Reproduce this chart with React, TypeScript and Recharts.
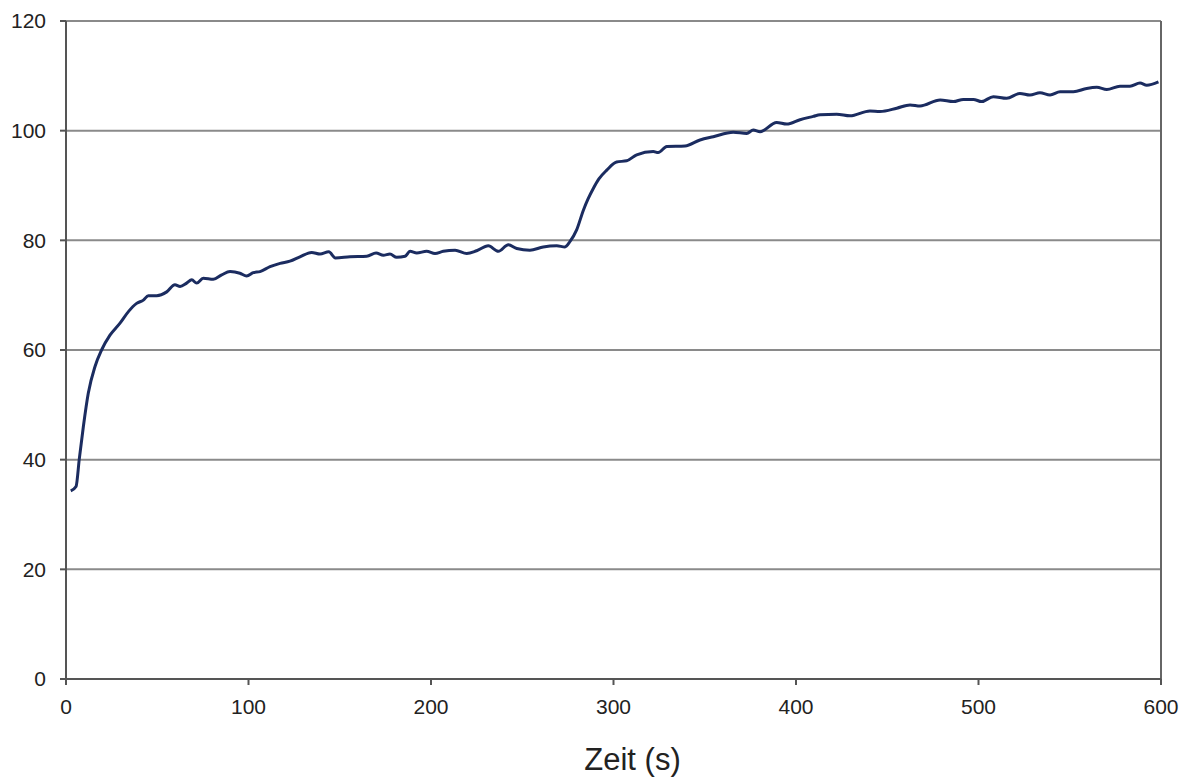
import React from "react";
import { LineChart, Line, XAxis, YAxis, CartesianGrid, ReferenceLine } from "recharts";

// Zeit in Sekunden
const times = [
  2.6, 5.5, 7.3, 9.5, 12.2, 15.9, 19.5, 24.1, 29.6, 34.2, 38.7, 42.4, 45.1, 49.7, 55.2, 59.7,
  62.5, 66.1, 68.9, 71.6, 75.2, 80.7, 85.3, 89.9, 95.3, 99, 102.6, 106.3, 111.8, 117.3, 122.7,
  128.2, 134.6, 139.2, 144, 147.6, 155.6, 164.8, 169.9, 173.9, 177.5, 181.2, 185.8, 188.5,
  192.2, 197.6, 202.2, 206.7, 213.2, 219.6, 225, 231.4, 236.9, 242.4, 247, 254.2, 261.5,
  268.9, 273.4, 276.2, 279.8, 283.5, 286, 289, 292, 296.3, 301.7, 307.2, 312.7, 321.8, 324.5,
  329.2, 339.2, 347.4, 354.7, 365.6, 373, 376.6, 380.3, 389.4, 394.9, 402.2, 409.5, 413.2,
  422.3, 429.6, 440.5, 446, 455.2, 462.5, 468, 479, 486.2, 491.7, 497.2, 501.7, 508.1, 515.4,
  522.7, 528.2, 533.7, 539.2, 544.7, 552, 559.3, 564.8, 570.3, 577.5, 583, 588.5, 592.2, 598.6,
];

// Messwerte
const values = [
  34.3, 35.1, 40.2, 46, 52.1, 57, 60, 62.7, 64.9, 67, 68.5, 69.1, 69.9, 69.9, 70.6, 71.9,
  71.6, 72.2, 72.8, 72.2, 73.1, 72.9, 73.7, 74.3, 74, 73.5, 74.1, 74.3, 75.2, 75.8, 76.2,
  77, 77.8, 77.5, 77.9, 76.8, 77, 77.1, 77.7, 77.3, 77.5, 76.9, 77.1, 78,
  77.7, 78, 77.6, 78, 78.2, 77.6, 78.1, 79, 78, 79.2, 78.5, 78.2, 78.8,
  79, 78.8, 79.8, 81.9, 85.5, 87.5, 89.5, 91.2, 92.8, 94.3, 94.5, 95.6, 96.2, 96,
  97.1, 97.2, 98.3, 98.9, 99.7, 99.5, 100.1, 99.8, 101.5, 101.2, 102, 102.6, 102.9,
  103, 102.7, 103.6, 103.5, 104.1, 104.7, 104.5, 105.6, 105.3, 105.7, 105.7, 105.3, 106.2, 105.9,
  106.8, 106.5, 106.9, 106.5, 107.1, 107.1, 107.7, 107.9, 107.5, 108.1, 108.1, 108.7, 108.3, 108.9,
];

const xTicks = [0, 100, 200, 300, 400, 500, 600];
const yTicks = [0, 20, 40, 60, 80, 100, 120];

const data = times.map((t, i) => ({ t, v: values[i] }));

const font = "'Liberation Sans', Arial, sans-serif";

export default function App() {
  return (
    <div style={{ position: "absolute", left: 0, top: 0, background: "#fff" }}>
      <LineChart
        width={1183}
        height={780}
        data={data}
        margin={{ top: 21, right: 22, left: 10, bottom: 1 }}
      >
        <CartesianGrid vertical={false} stroke="#8a8a8a" strokeWidth={2} />
        <XAxis
          dataKey="t"
          type="number"
          domain={[0, 600]}
          ticks={xTicks}
          height={100}
          tickMargin={14}
          tickSize={6}
          stroke="#555"
          strokeWidth={2}
          tick={{ fill: "#222", fontSize: 21, fontFamily: font }}
          label={{
            value: "Zeit (s)",
            position: "insideBottom",
            offset: 9,
            dx: 19,
            fill: "#222",
            fontSize: 31,
            fontFamily: font,
          }}
        />
        <YAxis
          type="number"
          domain={[0, 120]}
          ticks={yTicks}
          width={56}
          tickMargin={14}
          tickSize={6}
          stroke="#555"
          strokeWidth={2}
          tick={{ fill: "#222", fontSize: 21, fontFamily: font }}
        />
        <ReferenceLine x={600} stroke="#666" strokeWidth={2} />
        <Line
          type="monotone"
          dataKey="v"
          stroke="#1b2c60"
          strokeWidth={3}
          dot={false}
          isAnimationActive={false}
        />
      </LineChart>
    </div>
  );
}
